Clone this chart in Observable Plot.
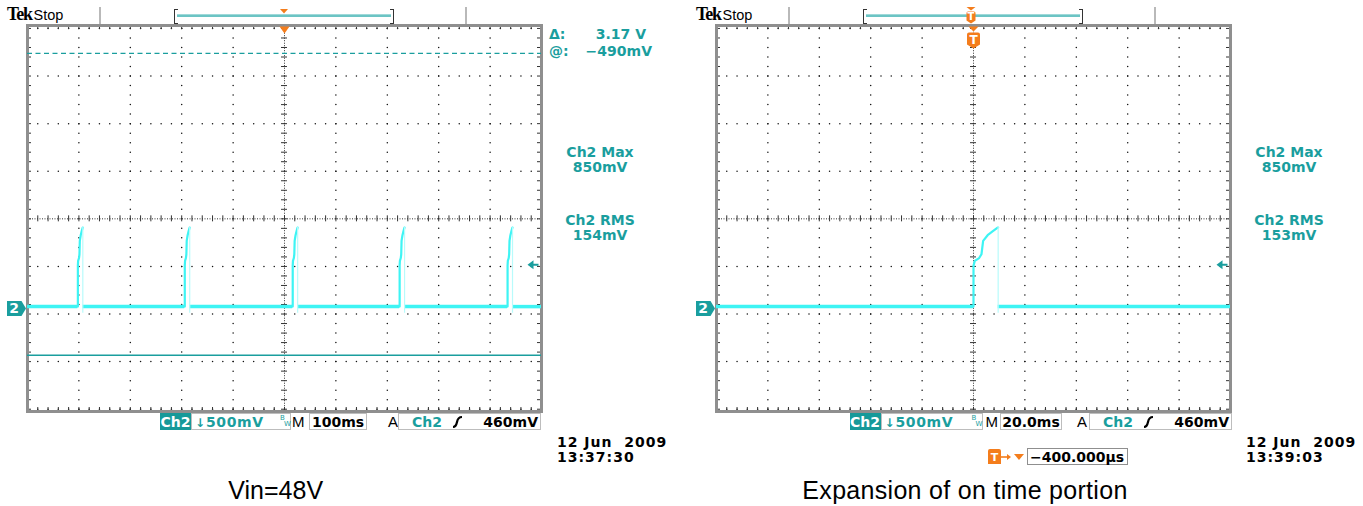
<!DOCTYPE html>
<html><head><meta charset="utf-8">
<script src="https://cdn.jsdelivr.net/npm/d3@7"></script>
<script src="https://cdn.jsdelivr.net/npm/@observablehq/plot@0.6"></script>
<style>
html,body{margin:0;padding:0;background:#fff;}
#page{position:relative;width:1363px;height:506px;overflow:hidden;}
.a{position:absolute;white-space:pre;}
</style></head><body><div id="page"></div>
<script>
// ---------------- data ----------------
const timeDomainLeft = [-500, 500];   // ms (100 ms/div)
const timeDomainRight = [-100, 100];  // ms (20.0 ms/div)
const voltDomain = [-1.082, 2.973];   // V (500 mV/div)
const gratCenterV = 0.942;            // graticule centre line, V
const baselineV = 0.02;               // trace level between pulses, V
const leftSpikeStarts = [-402, -194, 16, 224, 434];   // ms
const rightSpikeStarts = [0];                          // ms
const spikeOffsetMs = [0, 0, 0.5, 2.2, 3.1, 3.75, 5.5, 7.4, 9.4, 9.6];
const spikeVolts   = [0.02, 0.45, 0.50, 0.53, 0.57, 0.71, 0.77, 0.81, 0.85, 0.85];
const spikeUndershootV = -0.05;
const cursorVolts = [2.68, -0.49];
const triggerLevelV = 0.46;
const cursorLabels = ["Δ:", "3.17 V", "@:", "−490mV"];
const measLeft = ["Ch2 Max", "850mV", "Ch2 RMS", "154mV"];
const measRight = ["Ch2 Max", "850mV", "Ch2 RMS", "153mV"];
const statusLeft = ["Ch2", "500mV", "100ms", "Ch2", "460mV"];
const statusRight = ["Ch2", "500mV", "20.0ms", "Ch2", "460mV"];
const dateLeft = ["12 Jun  2009", "13:37:30"];
const dateRight = ["12 Jun  2009", "13:39:03"];
const delayLabel = "−400.000µs";
const captions = ["Vin=48V", "Expansion of on time portion"];

// ---------------- styling ----------------
const TEAL = "#1a9e9e", CYAN = "#3ef4f4", ORANGE = "#f47d1c";
const FONT = "DejaVu Sans, sans-serif";
const H = 440, MT = 25, MB = H - 411;
const page = document.getElementById("page");

function scopePlot(opt) {
  const [x0, x1] = opt.xDomain;
  const xDiv = (x1 - x0) / 10;
  const [v0, v1] = voltDomain;
  const plotW = 514, plotH = H - MT - MB;
  const pxX = plotW / (x1 - x0), pxV = plotH / (v1 - v0);
  const gTop = gratCenterV + 2, gBot = gratCenterV - 2;
  const xc = (x0 + x1) / 2;
  const xMinor = d3.range(0, 51).map(i => x0 + i * xDiv / 5);
  const vMinor = d3.range(0, 41).map(i => gBot + i * 0.1);
  const xMajor = d3.range(1, 10).filter(i => i !== 5).map(i => x0 + i * xDiv);
  const vMajor = [-4, -3, -2, -1, 1, 2, 3, 4].map(k => gratCenterV + k * 0.5);
  const dots = [];
  for (const x of xMajor) for (const v of vMinor) dots.push({x, v});
  for (const v of vMajor) for (const x of xMinor) dots.push({x, v});
  const tx = 3 / pxX, tv = 3 / pxV, ex = 4 / pxX, ev = 4 / pxV;

  const starts = opt.spikes;
  const segs = [];
  let prev = x0;
  for (const s of starts) { segs.push({x1: prev, x2: s, v: baselineV}); prev = s + spikeOffsetMs[spikeOffsetMs.length - 1]; }
  segs.push({x1: prev, x2: x1, v: baselineV});
  const spikePts = [];
  starts.forEach((s, i) => spikeOffsetMs.forEach((o, k) => spikePts.push({x: s + o, v: spikeVolts[k], id: i})));
  const falls = starts.map(s => ({x: s + spikeOffsetMs[spikeOffsetMs.length - 1], lo: spikeUndershootV, hi: spikeVolts[spikeVolts.length - 1]}));

  const groundSym = {draw(c) { c.moveTo(-20.5, -7.5); c.lineTo(-6, -7.5); c.lineTo(-1.5, 0); c.lineTo(-6, 7.5); c.lineTo(-20.5, 7.5); c.closePath(); }};
  const levelSym = {draw(c) { c.moveTo(0, 0); c.lineTo(6, -4.5); c.lineTo(6, -1); c.lineTo(11, -1); c.lineTo(11, 1); c.lineTo(6, 1); c.lineTo(6, 4.5); c.closePath(); }};
  const trigSym = {draw(c) { c.moveTo(-5, 1); c.lineTo(5, 1); c.lineTo(0, 8); c.closePath(); }};
  const tBadgeSym = {draw(c) { c.moveTo(-5, 1); c.lineTo(5, 1); c.lineTo(0, 6); c.closePath();
    c.moveTo(-6.5, 9); c.quadraticCurveTo(-6.5, 7, -4.5, 7); c.lineTo(4.5, 7); c.quadraticCurveTo(6.5, 7, 6.5, 9);
    c.lineTo(6.5, 19); c.lineTo(0, 23); c.lineTo(-6.5, 19); c.closePath(); }};

  const marks = [
    Plot.dot(dots, {x: "x", y: "v", r: 0.75, fill: "#111"}),
    Plot.ruleX([{x: xc}], {x: "x", y1: gBot, y2: gTop, stroke: "#333", strokeWidth: 1, strokeDasharray: "1,1.5"}),
    Plot.ruleY([{v: gratCenterV}], {y: "v", x1: x0, x2: x1, stroke: "#333", strokeWidth: 1, strokeDasharray: "1,1.5"}),
    Plot.ruleX(xMinor.map(x => ({x})), {x: "x", y1: gratCenterV - tv, y2: gratCenterV + tv, stroke: "#333", strokeWidth: 1}),
    Plot.ruleY(vMinor.map(v => ({v})), {y: "v", x1: xc - tx, x2: xc + tx, stroke: "#333", strokeWidth: 1}),
    Plot.ruleX(xMinor.map(x => ({x})), {x: "x", y1: v1 - ev, y2: v1, stroke: "#333", strokeWidth: 1}),
    Plot.ruleX(xMinor.map(x => ({x})), {x: "x", y1: v0, y2: v0 + ev, stroke: "#333", strokeWidth: 1}),
    Plot.ruleY(vMinor.map(v => ({v})), {y: "v", x1: x0, x2: x0 + ex, stroke: "#333", strokeWidth: 1}),
    Plot.ruleY(vMinor.map(v => ({v})), {y: "v", x1: x1 - ex, x2: x1, stroke: "#333", strokeWidth: 1}),
    Plot.frame({stroke: "#8f8f8f", strokeWidth: 3}),
  ];
  if (opt.cursors) {
    marks.push(Plot.ruleY([{v: cursorVolts[0]}], {y: "v", x1: x0, x2: x1, stroke: TEAL, strokeWidth: 1.3, strokeDasharray: "5,3.5"}));
    marks.push(Plot.ruleY([{v: cursorVolts[1]}], {y: "v", x1: x0, x2: x1, stroke: TEAL, strokeWidth: 1.5}));
  }
  marks.push(
    Plot.ruleY(segs, {y: "v", x1: "x1", x2: "x2", stroke: CYAN, strokeWidth: 3.5}),
    Plot.line(spikePts, {x: "x", y: "v", z: "id", stroke: CYAN, strokeWidth: 2.2}),
    Plot.ruleX(falls, {x: "x", y1: "lo", y2: "hi", stroke: "#b8fbfb", strokeWidth: 1.2}),
    Plot.dot([{x: x0, v: 0}], {x: "x", y: "v", symbol: groundSym, fill: TEAL, r: 5}),
    Plot.text([{x: x0, v: 0, t: "2"}], {x: "x", y: "v", text: "t", dx: -13.5, fill: "white", fontWeight: "bold", fontSize: 14, fontFamily: FONT, textAnchor: "middle", lineAnchor: "middle"}),
    Plot.dot([{x: x1, v: triggerLevelV}], {x: "x", y: "v", symbol: levelSym, fill: TEAL, r: 5, dx: -14})
  );
  if (opt.tBadge) {
    marks.push(Plot.dot([{x: 0, v: v1}], {x: "x", y: "v", symbol: tBadgeSym, fill: ORANGE, r: 5}));
    marks.push(Plot.text([{x: 0, v: v1, t: "T"}], {x: "x", y: "v", text: "t", dy: 14.5, fill: "white", fontWeight: "bold", fontSize: 12, fontFamily: FONT, textAnchor: "middle", lineAnchor: "middle"}));
  } else {
    marks.push(Plot.dot([{x: 0, v: v1}], {x: "x", y: "v", symbol: trigSym, fill: ORANGE, r: 5}));
  }
  return Plot.plot({
    width: opt.width, height: H,
    marginLeft: 27, marginRight: opt.width - 27 - plotW, marginTop: MT, marginBottom: MB,
    x: {domain: opt.xDomain, axis: null},
    y: {domain: voltDomain, axis: null},
    style: {background: "transparent", overflow: "visible"},
    marks
  });
}

function place(el, x, y) { el.style.left = x + "px"; el.style.top = y + "px"; page.appendChild(el); return el; }
function T(x, base, text, o = {}) {
  const size = o.size || 14;
  const d = document.createElement("div");
  d.className = "a";
  d.textContent = text;
  d.style.fontFamily = o.family || FONT;
  d.style.fontWeight = o.weight || "bold";
  d.style.fontSize = size + "px";
  d.style.lineHeight = size + "px";
  d.style.color = o.color || "#000";
  if (o.ls) d.style.letterSpacing = o.ls + "px";
  if (o.align === "center") d.style.transform = "translateX(-50%)";
  if (o.align === "right") d.style.transform = "translateX(-100%)";
  return place(d, x, base - 0.846 * size);
}
function B(x, y, w, h, css) {
  const d = document.createElement("div");
  d.className = "a";
  d.style.width = w + "px"; d.style.height = h + "px";
  d.style.boxSizing = "border-box";
  Object.assign(d.style, css || {});
  return place(d, x, y);
}
function S(x, y, w, h, inner) {
  const d = document.createElement("div");
  d.className = "a";
  d.innerHTML = `<svg width="${w}" height="${h}" viewBox="0 0 ${w} ${h}" style="display:block;overflow:visible">${inner}</svg>`;
  return place(d, x, y);
}

function scopeDecor(off, o) {
  // header
  T(off + 7, 20.5, "Tek", {family: "Liberation Serif, serif", size: 18, ls: -1.2, weight: "900"});
  T(off + 33.5, 20.5, "Stop", {family: "Liberation Sans, sans-serif", weight: "normal", size: 14.5});
  B(off + 99, 7, 2, 17, {background: "#b9b9b9"});
  B(off + 465, 7, 2, 17, {background: "#b9b9b9"});
  B(off + 174, 9, 4, 15, {borderLeft: "1.5px solid #333", borderTop: "1px solid #333", borderBottom: "1px solid #333"});
  B(off + 390, 9, 4, 15, {borderRight: "1.5px solid #333", borderTop: "1px solid #333", borderBottom: "1px solid #333"});
  B(off + 177, 14, 214, 3, {background: "#6cc4c4", borderTop: "1px solid #9fd9d9"});
  if (o.tBadge) {
    S(off + 276, 7, 12, 17, `<path d="M1.5,0 L10.5,0 L6,3.5 Z" fill="${ORANGE}"/><path d="M1.5,6 Q1.5,4.5 3,4.5 L9,4.5 Q10.5,4.5 10.5,6 L10.5,13.5 L6,16.5 L1.5,13.5 Z" fill="${ORANGE}"/><text x="6" y="13" text-anchor="middle" font-family="DejaVu Sans" font-weight="bold" font-size="10" fill="#fff">T</text>`);
  } else {
    S(off + 280, 9, 8, 5, `<path d="M0,0 L8,0 L4,4.5 Z" fill="${ORANGE}"/>`);
  }
  // measurements
  const m = o.meas;
  T(off + 600, 157, m[0], {color: TEAL, align: "center"});
  T(off + 600, 172, m[1], {color: TEAL, align: "center"});
  T(off + 600, 225, m[2], {color: TEAL, align: "center"});
  T(off + 600, 240, m[3], {color: TEAL, align: "center"});
  if (o.cursors) {
    T(off + 549, 39, cursorLabels[0], {color: TEAL});
    T(off + 646, 39, cursorLabels[1], {color: TEAL, align: "right"});
    T(off + 549, 56, cursorLabels[2], {color: TEAL});
    T(off + 652, 56, cursorLabels[3], {color: TEAL, align: "right"});
  }
  // status bar
  const s = o.status, p = o.sp;
  B(p.ch2, 413, 31, 17, {background: "#169999"});
  T(p.ch2 + 15.5, 427, s[0], {color: "#fff", align: "center"});
  B(p.ch2 + 31, 413, p.box1w, 17, {border: "1px solid #bdbdbd"});
  T(p.ch2 + 35, 427, "↓", {color: TEAL, size: 12});
  T(p.ch2 + 46, 427, s[1], {color: TEAL, ls: 0.6});
  T(p.ch2 + p.box1w + 20, 421, "B", {color: TEAL, size: 7, weight: "normal"});
  T(p.ch2 + p.box1w + 24, 427, "W", {color: TEAL, size: 7, weight: "normal"});
  T(p.m, 427, "M", {weight: "normal", size: 15, family: "Liberation Sans, sans-serif"});
  B(p.box2, 413, p.box2w, 17, {border: "1px solid #bdbdbd"});
  T(p.box2 + p.box2w / 2, 427, s[2], {align: "center"});
  T(p.a, 427, "A", {weight: "normal", size: 15, family: "Liberation Sans, sans-serif"});
  B(p.box3, 413, 143, 17, {border: "1px solid #bdbdbd"});
  T(p.box3 + 14, 427, s[3], {color: TEAL});
  S(p.box3 + 54, 416, 11, 12, `<path d="M1,11 Q4,11 5,6 Q6,1 10,1" fill="none" stroke="#000" stroke-width="2.2"/>`);
  T(p.box3 + 140, 427, s[4], {align: "right"});
  // date
  T(off + 557, 447, o.date[0], {ls: 1});
  T(off + 557, 462, o.date[1], {ls: 1});
}

const leftDiv = document.createElement("div");
leftDiv.className = "a";
leftDiv.appendChild(scopePlot({xDomain: timeDomainLeft, width: 680, spikes: leftSpikeStarts, cursors: true, tBadge: false}));
place(leftDiv, 0, 0);
const rightDiv = document.createElement("div");
rightDiv.className = "a";
rightDiv.appendChild(scopePlot({xDomain: timeDomainRight, width: 674, spikes: rightSpikeStarts, cursors: false, tBadge: true}));
place(rightDiv, 689, 0);

scopeDecor(0, {meas: measLeft, status: statusLeft, date: dateLeft, cursors: true, tBadge: false,
  sp: {ch2: 160, box1w: 100, m: 292, box2: 309, box2w: 58, a: 388, box3: 398}});
scopeDecor(689, {meas: measRight, status: statusRight, date: dateRight, cursors: false, tBadge: true,
  sp: {ch2: 849.5, box1w: 102, m: 985.5, box2: 1000, box2w: 62, a: 1077, box3: 1089}});

// delay readout (right scope)
S(988, 449, 13, 15, `<path d="M0,2 Q0,0 2,0 L11,0 Q13,0 13,2 L13,15 L0,15 Z" fill="${ORANGE}"/><text x="6.5" y="12" text-anchor="middle" font-family="DejaVu Sans" font-weight="bold" font-size="11" fill="#fff">T</text>`);
S(1001, 452, 24, 10, `<path d="M0,5 L8,5" stroke="${ORANGE}" stroke-width="1.6"/><path d="M6,2 L10,5 L6,8 Z" fill="${ORANGE}"/><path d="M13,2 L23,2 L18,8 Z" fill="${ORANGE}"/>`);
B(1026.5, 448, 101, 17, {border: "1px solid #8f8f8f"});
T(1077, 462, delayLabel, {align: "center"});

// captions
T(275.7, 499, captions[0], {family: "Liberation Sans, Arial, sans-serif", weight: "normal", size: 25, align: "center"});
T(965, 499, captions[1], {family: "Liberation Sans, Arial, sans-serif", weight: "normal", size: 25, align: "center", ls: 0.3});
</script>
</body></html>
